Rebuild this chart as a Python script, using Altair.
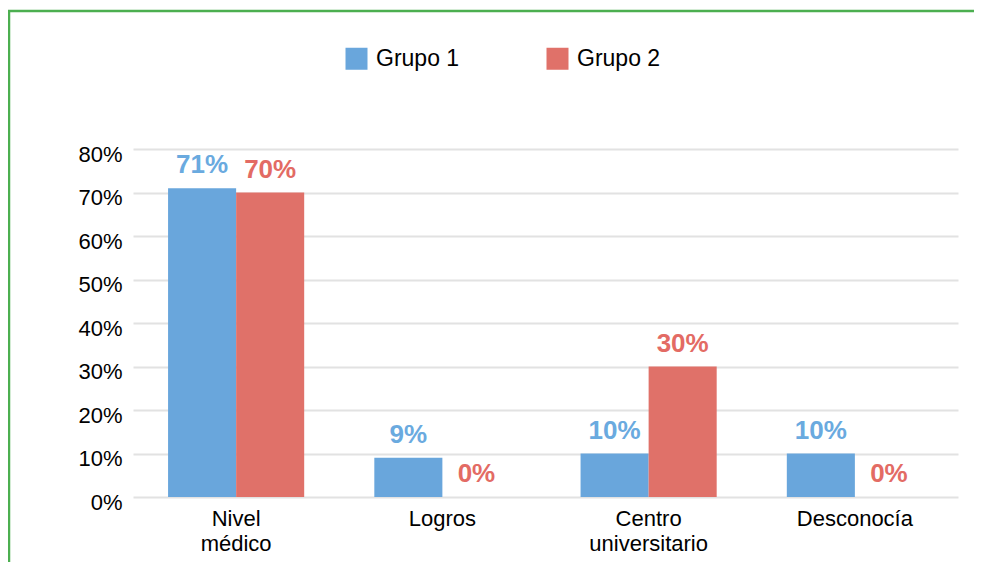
import altair as alt
import pandas as pd

categorias = ["Nivel médico", "Logros", "Centro universitario", "Desconocía"]
grupos = ["Grupo 1", "Grupo 2"]
grupo1 = [0.71, 0.09, 0.10, 0.10]
grupo2 = [0.70, 0.00, 0.30, 0.00]
ticks_y = [0, 0.1, 0.2, 0.3, 0.4, 0.5, 0.6, 0.7, 0.8]

rows = []
for i, c in enumerate(categorias):
    rows.append({"categoria": c, "grupo": grupos[0], "valor": grupo1[i]})
    rows.append({"categoria": c, "grupo": grupos[1], "valor": grupo2[i]})
df = pd.DataFrame(rows)

FONT = "Liberation Sans"
BLUE = "#69a6dc"
RED = "#e07169"
BLUE_T = "#6aaadf"
RED_T = "#e36b64"
GREEN = "#4caf50"

x = alt.X(
    "categoria:N",
    sort=categorias,
    scale=alt.Scale(paddingInner=0.34, paddingOuter=0.17),
    axis=alt.Axis(
        title=None, labelAngle=0, labelFontSize=22, labelFont=FONT, labelColor="black",
        labelExpr="split(datum.label, ' ')", labelLineHeight=25, labelPadding=11,
        ticks=False, domain=False, grid=False,
    ),
)
y = alt.Y(
    "valor:Q",
    scale=alt.Scale(domain=[0, 0.8], nice=False),
    axis=alt.Axis(
        title=None, format="%", values=ticks_y, labelFontSize=22, labelFont=FONT,
        labelColor="black", labelPadding=11, labelOffset=5, ticks=False, domain=False,
        gridColor="#e2e2e2", gridWidth=2,
    ),
)
xoff = alt.XOffset("grupo:N", sort=grupos)

bars = alt.Chart(df).mark_bar().encode(
    x=x,
    y=y,
    xOffset=xoff,
    color=alt.Color(
        "grupo:N",
        scale=alt.Scale(domain=grupos, range=[BLUE, RED]),
        legend=alt.Legend(
            title=None, orient="none", legendX=212, legendY=-102, direction="horizontal",
            symbolType="square", symbolSize=484, symbolStrokeWidth=0, labelFontSize=23,
            labelFont=FONT, labelOffset=8, columnPadding=86, padding=0, labelColor="black",
        ),
    ),
)

labels = alt.Chart(df).mark_text(
    fontSize=26, fontWeight="bold", font=FONT, baseline="alphabetic", dy=-15, align="center"
).encode(
    x=x,
    y=y,
    xOffset=xoff,
    text=alt.Text("valor:Q", format=".0%"),
    color=alt.condition(alt.datum.grupo == "Grupo 1", alt.value(BLUE_T), alt.value(RED_T)),
)

bdf = pd.DataFrame({"k": [0]})
border_v = alt.Chart(bdf).mark_rule(color=GREEN, strokeWidth=2.5).encode(
    x=alt.value(-124), y=alt.value(-138), y2=alt.value(420)
)
border_h = alt.Chart(bdf).mark_rule(color=GREEN, strokeWidth=2.5).encode(
    x=alt.value(-125), x2=alt.value(900), y=alt.value(-138)
)

chart = (
    alt.layer(bars, labels, border_v, border_h)
    .properties(
        width=825,
        height=348,
        padding={"left": 125, "top": 141, "right": 16, "bottom": 65},
        autosize=alt.AutoSizeParams(type="none"),
        background="white",
    )
    .configure_view(stroke=None)
)

chart.save("out.html", embed_options={"renderer": "svg", "actions": False})
